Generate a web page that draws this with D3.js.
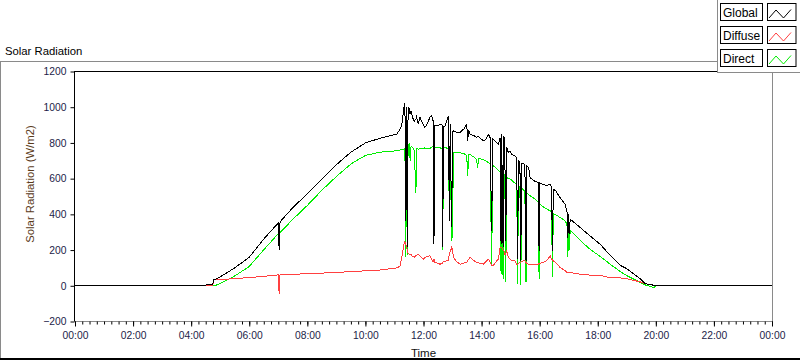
<!DOCTYPE html>
<html>
<head>
<meta charset="utf-8">
<script src="https://cdn.jsdelivr.net/npm/d3@7"></script>
<style>
  html, body { margin: 0; padding: 0; background: #fff; }
  svg { display: block; font-family: "Liberation Sans", Arial, sans-serif; }
</style>
</head>
<body>
<svg id="chart" width="800" height="361"></svg>
<script>
// ---- data ----
const hours = [0.00,4.20,4.50,4.74,4.78,4.82,5.00,5.50,6.00,6.50,7.00,7.03,7.06,7.50,8.00,8.50,9.00,9.50,10.00,10.50,
  11.08,11.19,11.25,11.33,11.36,11.39,11.41,11.44,11.47,11.51,11.54,11.57,11.62,11.68,11.74,11.76,11.82,11.88,11.95,11.99,
  12.05,12.11,12.22,12.28,12.33,12.36,12.39,12.50,12.57,12.64,12.66,12.69,12.74,12.86,12.89,12.92,12.97,13.00,13.03,13.14,
  13.26,13.40,13.49,13.52,13.56,13.60,13.75,13.83,13.86,13.90,14.06,14.15,14.23,14.29,14.35,14.38,14.46,14.52,14.58,14.64,
  14.67,14.69,14.74,14.77,14.80,14.83,14.87,14.92,14.98,15.04,15.15,15.21,15.24,15.27,15.32,15.35,15.38,15.44,15.49,15.53,
  15.56,15.62,15.67,15.80,15.95,15.98,16.01,16.10,16.24,16.36,16.41,16.44,16.47,16.55,16.70,16.87,16.94,16.97,17.00,17.02,
  17.05,17.39,17.73,18.08,18.42,18.77,19.01,19.46,19.63,19.73,19.90,19.95,20.00,24.00];
const globalRad = [0,0,4,10,34,36,50,100,160,262,352,198,358,438,515,598,678,748,800,826,
  849,877,900,1000,1021,364,1000,215,1002,990,960,980,945,920,935,945,905,943,915,905,
  887,900,943,952,924,233,896,896,905,900,215,890,896,952,364,905,330,860,868,859,
  859,880,905,812,870,849,840,831,835,835,812,820,849,831,308,825,812,800,793,830,
  233,849,215,840,760,250,775,746,756,735,728,719,150,700,690,140,685,683,680,140,
  670,662,606,588,578,196,575,569,560,569,550,196,540,532,495,457,420,270,400,290,
  373,327,280,233,172,115,95,39,13,8,4,0,0,0];
const diffuseRad = [0,0,0,0,32,33,35,40,46,53,61,-45,62,65,67,71,75,79,84,88,
  100,110,159,233,248,230,220,200,180,178,178,175,165,160,170,172,177,165,155,149,
  158,165,168,150,135,150,131,125,121,125,130,135,138,140,180,190,215,200,159,135,
  121,128,131,140,150,159,140,131,131,128,121,135,149,135,112,112,125,140,149,215,
  215,215,200,196,177,177,196,160,149,140,140,121,121,125,131,131,135,140,140,130,
  125,121,121,121,121,125,125,130,140,168,150,145,140,130,103,85,75,75,75,75,
  74,65,60,58,46,44,39,22,12,8,4,0,0,0];
const directRad = [0,0,0,0,0,1,13,55,108,202,292,295,298,372,450,535,612,682,730,748,
  756,760,762,765,768,159,770,170,784,793,700,780,775,760,521,770,765,768,770,770,
  772,770,770,775,784,252,775,772,772,770,200,772,776,765,385,760,250,300,747,747,
  745,740,728,616,735,735,720,705,660,715,705,700,690,681,121,675,665,655,648,635,
  65,630,40,625,615,20,607,600,599,590,575,568,10,560,551,5,545,538,530,20,
  520,512,504,490,470,40,457,445,430,420,412,50,405,398,383,365,345,160,330,200,
  310,255,205,165,122,80,56,19,5,0,-9,-8,0,0];
const yTicks = [-200,0,200,400,600,800,1000,1200];
const xTickHours = [0,2,4,6,8,10,12,14,16,18,20,22,24];
const seriesNames = ["Global","Diffuse","Direct"];
const seriesColors = ["#000000","#ff4040","#00ee00"];

// ---- layout ----
const svg = d3.select("#chart");
const L = 74.5, R = 772.5, T = 71.5, B = 321.5;
const x = d3.scaleLinear().domain([0,24]).range([75, 772]);
const y = d3.scaleLinear().domain([-200,1200]).range([321.5, 71.5]);

// outer panel
svg.append("line").attr("x1",0).attr("x2",717).attr("y1",61.5).attr("y2",61.5).attr("stroke","#8a8a8a");
svg.append("line").attr("x1",0.5).attr("x2",0.5).attr("y1",61).attr("y2",360).attr("stroke","#8a8a8a");
svg.append("line").attr("x1",0).attr("x2",800).attr("y1",359).attr("y2",359).attr("stroke","#000").attr("stroke-width",2);

// title
svg.append("text").attr("x",5).attr("y",54.5).attr("font-size","11.3px").attr("fill","#000").text("Solar Radiation");

// plot area
svg.append("rect").attr("x",L).attr("y",T).attr("width",R-L).attr("height",B-T).attr("fill","#fff");

svg.append("defs").append("clipPath").attr("id","clip")
  .append("rect").attr("x",L).attr("y",T).attr("width",R-L).attr("height",B-T);

// series lines: direct, diffuse, global (global on top)
const rows = hours.map((h,i)=>({h, g: globalRad[i], d: diffuseRad[i], b: directRad[i]}));
const keys = ["g","d","b"];
const order = [2,1,0];
const gLines = svg.append("g").attr("clip-path","url(#clip)");
order.forEach(si => {
  const k = keys[si];
  const line = d3.line().x(r => x(r.h)).y(r => y(r[k]));
  gLines.append("path").datum(rows)
    .attr("d", line)
    .attr("fill","none")
    .attr("stroke", seriesColors[si])
    .attr("stroke-width",1)
    .attr("shape-rendering","crispEdges");
});

// frame
svg.append("line").attr("x1",L).attr("x2",R).attr("y1",B).attr("y2",B).attr("stroke","#8a8a8a");
svg.append("line").attr("x1",R).attr("x2",R).attr("y1",T).attr("y2",B+0.5).attr("stroke","#8a8a8a");
svg.append("line").attr("x1",L).attr("x2",R).attr("y1",T).attr("y2",T).attr("stroke","#000");
svg.append("line").attr("x1",L).attr("x2",L).attr("y1",T-0.5).attr("y2",B).attr("stroke","#000");

// y axis
const yAxis = d3.axisLeft(y).tickValues(yTicks).tickSize(4).tickPadding(4).tickFormat(d3.format("d"));
const gy = svg.append("g").attr("transform",`translate(${L},0)`).call(yAxis);
gy.select(".domain").remove();
gy.selectAll(".tick line").attr("stroke","#000");
gy.selectAll(".tick text").attr("font-size","10.3px").attr("fill","#1c1c48").attr("font-family","Liberation Sans, Arial, sans-serif");

// x axis minor ticks (15 min)
const minor = d3.range(0, 24.001, 0.25);
const gxm = svg.append("g").attr("transform",`translate(0,${B})`)
  .call(d3.axisBottom(x).tickValues(minor).tickSize(3).tickFormat(""));
gxm.select(".domain").remove();
gxm.selectAll(".tick line").attr("stroke","#000");
// x axis major
const fmt = h => String(h % 24).padStart(2,"0") + ":00";
const gx = svg.append("g").attr("transform",`translate(0,${B})`)
  .call(d3.axisBottom(x).tickValues(xTickHours).tickSize(5).tickPadding(5).tickFormat(fmt));
gx.select(".domain").remove();
gx.selectAll(".tick line").attr("stroke","#000");
gx.selectAll(".tick text").attr("font-size","10.3px").attr("fill","#1c1c48").attr("font-family","Liberation Sans, Arial, sans-serif");

// axis titles
svg.append("text").attr("x",(L+R)/2).attr("y",357).attr("text-anchor","middle")
  .attr("font-size","11.5px").attr("fill","#111").text("Time");
svg.append("text").attr("transform","translate(34,184) rotate(-90)").attr("text-anchor","middle")
  .attr("font-size","11.3px").attr("fill","#5a3a1a").text("Solar Radiation (W/m2)");

// legend panel
const lg = svg.append("g");
lg.append("rect").attr("x",717).attr("y",0).attr("width",83).attr("height",72.5).attr("fill","#fff");
lg.append("line").attr("x1",717.5).attr("x2",717.5).attr("y1",0).attr("y2",73).attr("stroke","#8a8a8a");
lg.append("line").attr("x1",717).attr("x2",800).attr("y1",72.5).attr("y2",72.5).attr("stroke","#8a8a8a");
seriesNames.forEach((name,i) => {
  const y0 = 3.5 + i*23;
  lg.append("rect").attr("x",720.5).attr("y",y0).attr("width",42).attr("height",17)
    .attr("fill","#fff").attr("stroke","#000");
  lg.append("text").attr("x",723).attr("y",y0+13).attr("font-size","12px").attr("fill","#000").text(name);
  lg.append("rect").attr("x",767.5).attr("y",y0).attr("width",28.5).attr("height",17)
    .attr("fill","#fff").attr("stroke","#000");
  const pts = [[769,y0+14.5],[776,y0+6.5],[783.5,y0+14.5],[791,y0+6]];
  lg.append("path").attr("d", d3.line()(pts)).attr("fill","none")
    .attr("stroke", seriesColors[i]).attr("stroke-width",1);
});
</script>
</body>
</html>
